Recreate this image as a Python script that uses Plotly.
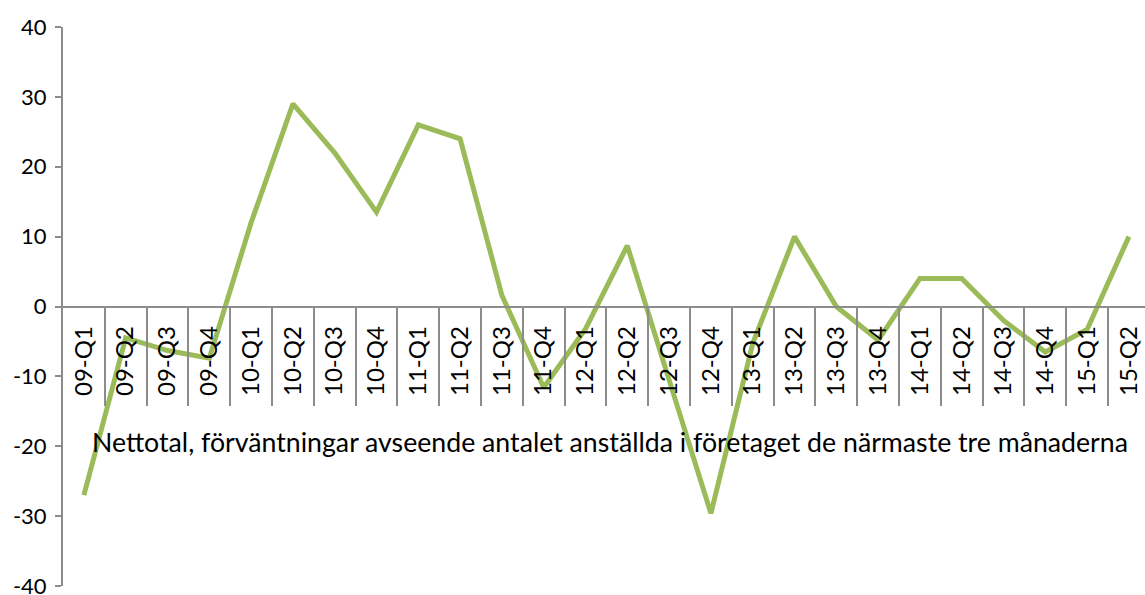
import plotly.graph_objects as go

quarters = [
    "09-Q1", "09-Q2", "09-Q3", "09-Q4",
    "10-Q1", "10-Q2", "10-Q3", "10-Q4",
    "11-Q1", "11-Q2", "11-Q3", "11-Q4",
    "12-Q1", "12-Q2", "12-Q3", "12-Q4",
    "13-Q1", "13-Q2", "13-Q3", "13-Q4",
    "14-Q1", "14-Q2", "14-Q3", "14-Q4",
    "15-Q1", "15-Q2",
]
nettotal = [
    -27, -4.5, -6.3, -7.4,
    12, 29, 22, 13.5,
    26, 24, 1.6, -11.6,
    -3.2, 8.7, -10.5, -29.6,
    -5.3, 10, 0, -4.8,
    4, 4, -2, -6.5,
    -3.3, 10,
]
y_ticks = [40, 30, 20, 10, 0, -10, -20, -30, -40]
y_ticktext = ["40", "30", "20", "10", "0", "-10", "-20", "-30", "-40"]
x_title = "Nettotal, förväntningar avseende antalet anställda i företaget de närmaste tre månaderna"

FONT = "Lato"
GREY = "#8c8c8c"
idx = list(range(len(quarters)))

fig = go.Figure()
fig.add_trace(go.Scatter(
    x=idx, y=nettotal, mode="lines",
    line=dict(color="#9bbb59", width=5),
    showlegend=False, hoverinfo="skip"))
# invisible trace so the label axis gets drawn
fig.add_trace(go.Scatter(
    x=idx, y=nettotal, mode="lines", xaxis="x2",
    line=dict(width=0), opacity=0, showlegend=False, hoverinfo="skip"))

xrange = [-0.5, 25.385]
fig.update_layout(
    width=1145, height=595,
    margin=dict(l=63, r=0, t=27, b=9),
    plot_bgcolor="white", paper_bgcolor="white",
    font=dict(family=FONT, size=24, color="black"),
    xaxis=dict(
        range=xrange, anchor="free", position=0.5, automargin=False,
        showline=True, linecolor=GREY, linewidth=2,
        tickmode="array", tickvals=[i + 0.5 for i in idx],
        ticks="outside", ticklen=98, tickwidth=2, tickcolor=GREY,
        showticklabels=False, showgrid=False, zeroline=False),
    xaxis2=dict(
        range=xrange, overlaying="x", anchor="free", position=0.5,
        automargin=False,
        tickmode="array", tickvals=idx, ticktext=quarters,
        ticks="outside", ticklen=9, tickcolor="rgba(0,0,0,0)",
        tickangle=-90, tickfont=dict(size=24),
        showline=False, showgrid=False, zeroline=False),
    yaxis=dict(
        range=[-40, 40], tickmode="array", tickvals=y_ticks,
        ticktext=y_ticktext, automargin=False, ticklabeloverflow="allow",
        ticklabelstandoff=4,
        showline=True, linecolor=GREY, linewidth=2,
        ticks="outside", ticklen=6, tickwidth=2, tickcolor=GREY,
        tickfont=dict(size=22), showgrid=False, zeroline=False),
    annotations=[dict(
        text=x_title, xref="paper", yref="paper",
        x=0.5055, y=0.2576, xanchor="center", yanchor="middle",
        showarrow=False, font=dict(size=26.7, color="black"))],
)

# drop the browser's default 8px page margin so the figure sits at (0, 0)
fig.write_html("out.html", config={"displayModeBar": False},
               post_script="document.body.style.margin='0';")
